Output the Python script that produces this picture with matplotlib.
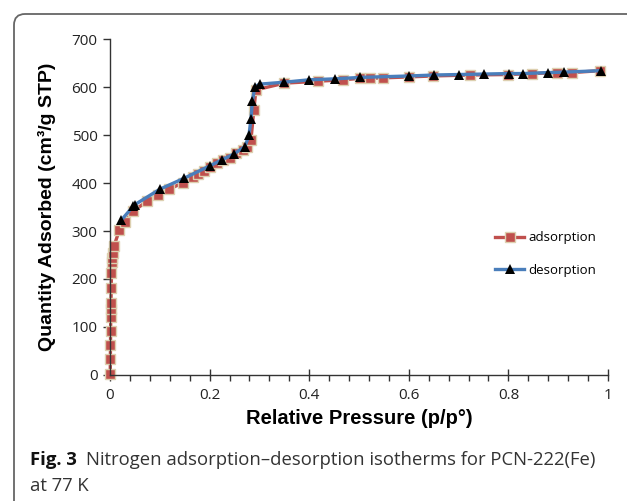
import matplotlib

matplotlib.use("Agg")
import matplotlib.pyplot as plt
from matplotlib.patches import FancyBboxPatch
from matplotlib.transforms import IdentityTransform
from matplotlib.ticker import MultipleLocator

# adsorption branch (p/p0, cm3/g STP)
ads_p = [0.0005, 0.0007, 0.001, 0.0012, 0.0015, 0.0018, 0.002, 0.0025, 0.003, 0.004,
         0.005, 0.006, 0.008, 0.019, 0.030, 0.047, 0.075, 0.096, 0.118, 0.146,
         0.167, 0.177, 0.189, 0.201, 0.214, 0.226, 0.240, 0.254, 0.268, 0.276,
         0.283, 0.289, 0.293, 0.350, 0.418, 0.468, 0.502, 0.523, 0.548, 0.601,
         0.648, 0.723, 0.800, 0.847, 0.897, 0.927, 0.984]
ads_q = [3, 33, 62, 92, 121, 137, 151, 182, 212, 235,
         244, 254, 269, 302, 319, 342, 362, 376, 387, 400,
         413, 419, 426, 433, 441, 448, 453, 462, 469, 476,
         490, 553, 594, 608, 612, 615, 618, 618, 619, 621,
         623, 625, 626, 628, 630, 630, 634]

# desorption branch
des_p = [0.023, 0.047, 0.050, 0.100, 0.149, 0.201, 0.224, 0.248, 0.271, 0.279,
         0.283, 0.286, 0.291, 0.301, 0.350, 0.400, 0.452, 0.503, 0.601, 0.651,
         0.701, 0.752, 0.801, 0.830, 0.879, 0.912, 0.985]
des_q = [323, 352, 355, 387, 410, 436, 448, 460, 476, 499,
         533, 571, 601, 606, 610, 615, 617, 620, 623, 625,
         626, 627, 628, 628, 630, 631, 634]

y_ticks = [0, 100, 200, 300, 400, 500, 600, 700]
x_ticks = [0, 0.2, 0.4, 0.6, 0.8, 1]
x_tick_labels = ["0", "0.2", "0.4", "0.6", "0.8", "1"]

fig = plt.figure(figsize=(6.27, 5.01), dpi=100)

# rounded frame (top and left edges visible)
frame = FancyBboxPatch((14, -40), 700, 501 - 14 + 40,
                       boxstyle="round,pad=0,rounding_size=11",
                       transform=IdentityTransform(), facecolor="none",
                       edgecolor="#666666", linewidth=1.3)
fig.patches.append(frame)

ax = fig.add_axes([110 / 627, 1 - 375 / 501, 498 / 627, 336 / 501])

ax.plot(ads_p, ads_q, color="#C0504D", linewidth=2.4, marker="s", markersize=6.5,
        markerfacecolor="#C0504D", markeredgecolor="#DDD0B0", markeredgewidth=1.0,
        label="adsorption", zorder=2, clip_on=False)
ax.plot(des_p, des_q, color="#4A7EBB", linewidth=2.4, marker="^", markersize=6.5,
        markerfacecolor="black", markeredgecolor="black", markeredgewidth=0,
        label="desorption", zorder=3, clip_on=False)

ax.set_xlim(0, 1)
ax.set_ylim(0, 700)
ax.set_xticks(x_ticks)
ax.set_xticklabels(x_tick_labels)
ax.set_yticks(y_ticks)
ax.xaxis.set_minor_locator(MultipleLocator(0.04))

for side in ("top", "right"):
    ax.spines[side].set_visible(False)
for side in ("left", "bottom"):
    ax.spines[side].set_color("#333333")
    ax.spines[side].set_linewidth(1.0)

ax.tick_params(axis="x", which="major", direction="inout", length=9, width=1.0,
               color="#333333", pad=5)
ax.tick_params(axis="x", which="minor", direction="out", length=4, width=1.0,
               color="#333333")
ax.tick_params(axis="y", which="major", direction="out", length=5, width=1.0,
               color="#333333", pad=4)
for lbl in ax.get_xticklabels() + ax.get_yticklabels():
    lbl.set_fontfamily("Open Sans")
    lbl.set_fontsize(11)
    lbl.set_color("#222222")

ax.set_xlabel("Relative Pressure (p/p°)", fontfamily="Liberation Sans",
              fontweight="bold", fontsize=14.5, labelpad=4)
ax.set_ylabel("Quantity Adsorbed (cm³/g STP)", fontfamily="Liberation Sans",
              fontweight="bold", fontsize=14, labelpad=11)

leg = ax.legend(loc="center left", bbox_to_anchor=(0.75, 0.36), frameon=False,
                handlelength=2.2, handletextpad=0.3, labelspacing=1.5,
                prop={"family": "Open Sans", "size": 9.5})

fig.text(30 / 627, 1 - 460 / 501, "Fig. 3", fontfamily="Open Sans",
         fontweight="bold", fontsize=13.3, va="center", ha="left", color="#111111")
fig.text(86 / 627, 1 - 460 / 501,
         "Nitrogen adsorption–desorption isotherms for PCN-222(Fe)",
         fontfamily="Open Sans", fontsize=13.3, va="center", ha="left", color="#333333")
fig.text(30 / 627, 1 - 486 / 501, "at 77 K", fontfamily="Open Sans",
         fontsize=13.3, va="center", ha="left", color="#333333")

fig.savefig("out.png", dpi=100)
